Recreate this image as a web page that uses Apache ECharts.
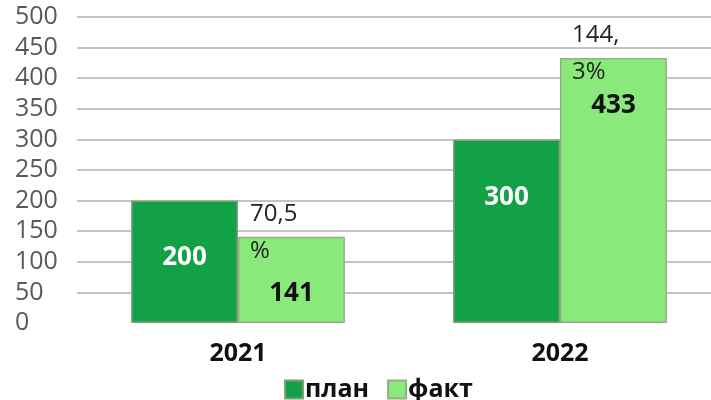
<!DOCTYPE html>
<html>
<head>
<meta charset="utf-8">
<script src="https://cdn.jsdelivr.net/npm/echarts@6/dist/echarts.min.js"></script>
<style>
html, body { margin: 0; padding: 0; background: #fff; overflow: hidden; }
/* the plot runs a little past the right edge of the picture */
#chart { width: 721px; height: 400px; }
</style>
</head>
<body>
<div id="chart"></div>
<script>
// values
var years = ["2021", "2022"];
var planVals = [200, 300];
var factVals = [141, 433];
var yTicks = [0, 50, 100, 150, 200, 250, 300, 350, 400, 450, 500];

// label nudges (Excel put them by hand)
var planLabelShift = [-4, -34];
var factLabelShift = [14, -85];

var FONT = "Open Sans";
var dom = document.getElementById("chart");
var myChart = echarts.init(dom);

var pctText = function (i) {
    var p = (factVals[i] / planVals[i] * 100).toFixed(1).replace(".", ",") + "%";
    return p;
};

var planData = planVals.map(function (v, i) {
    return { value: v, label: { offset: [0, planLabelShift[i]] } };
});
var factData = factVals.map(function (v, i) {
    return { value: v, label: { offset: [0, factLabelShift[i]] } };
});

// grid lines: hide the one at 0
var lineColors = yTicks.map(function (t) { return t === 0 ? "rgba(0,0,0,0)" : "#c4c4c4"; });

var option = {
    backgroundColor: "#fff",
    animation: false,
    textStyle: { fontFamily: FONT },
    grid: { left: 77, right: 0, top: 17, bottom: 77 },
    legend: {
        left: 279, top: 372,
        itemWidth: 18, itemHeight: 18, itemGap: 18,
        textStyle: { fontFamily: FONT, fontSize: 25, fontWeight: "bold", color: "#111", padding: [0, 0, 0, -3] },
        data: [
            { name: "план", icon: "rect" },
            { name: "факт", icon: "rect" }
        ]
    },
    xAxis: [{
        type: "category",
        data: years,
        axisLine: { show: false },
        axisTick: { show: false },
        axisLabel: { margin: 18, fontFamily: FONT, fontSize: 25, fontWeight: "bold", color: "#111" }
    }, {
        type: "category",
        data: years,
        show: false
    }],
    yAxis: {
        type: "value",
        min: 0, max: 500, interval: 50,
        axisLine: { show: false },
        axisTick: { show: false },
        axisLabel: { margin: 62, align: "left", fontFamily: FONT, fontSize: 25, color: "#595959" },
        splitLine: { lineStyle: { color: lineColors, width: 2 } }
    },
    series: [{
        name: "план",
        type: "bar",
        xAxisIndex: 0,
        data: planData,
        barWidth: "33.2%",
        barGap: "0%",
        itemStyle: { color: "#12a146", borderColor: "#7fa078", borderWidth: 1.5 },
        label: {
            show: true, position: "inside",
            fontFamily: FONT, fontSize: 26, fontWeight: "bold", color: "#fff"
        }
    }, {
        name: "факт",
        type: "bar",
        xAxisIndex: 0,
        data: factData,
        barWidth: "33.2%",
        barGap: "0%",
        itemStyle: { color: "#8ae97b", borderColor: "#96ad8a", borderWidth: 1.5 },
        label: {
            show: true, position: "inside",
            fontFamily: FONT, fontSize: 26, fontWeight: "bold", color: "#111"
        }
    }, {
        // invisible twin bars that carry the % labels
        name: "_p",
        type: "bar",
        xAxisIndex: 1,
        data: planVals,
        barWidth: "33.2%",
        barGap: "0%",
        silent: true,
        itemStyle: { color: "rgba(0,0,0,0)" }
    }, {
        name: "_f",
        type: "bar",
        xAxisIndex: 1,
        data: factVals,
        barWidth: "33.2%",
        barGap: "0%",
        silent: true,
        itemStyle: { color: "rgba(0,0,0,0)" },
        z: 5,
        label: {
            show: true,
            position: [12, -41],
            align: "left", verticalAlign: "top",
            width: 52, overflow: "breakAll",
            lineHeight: 37,
            fontFamily: FONT, fontSize: 24, color: "#222",
            formatter: function (p) { return pctText(p.dataIndex); }
        }
    }]
};
myChart.setOption(option);
</script>
</body>
</html>
